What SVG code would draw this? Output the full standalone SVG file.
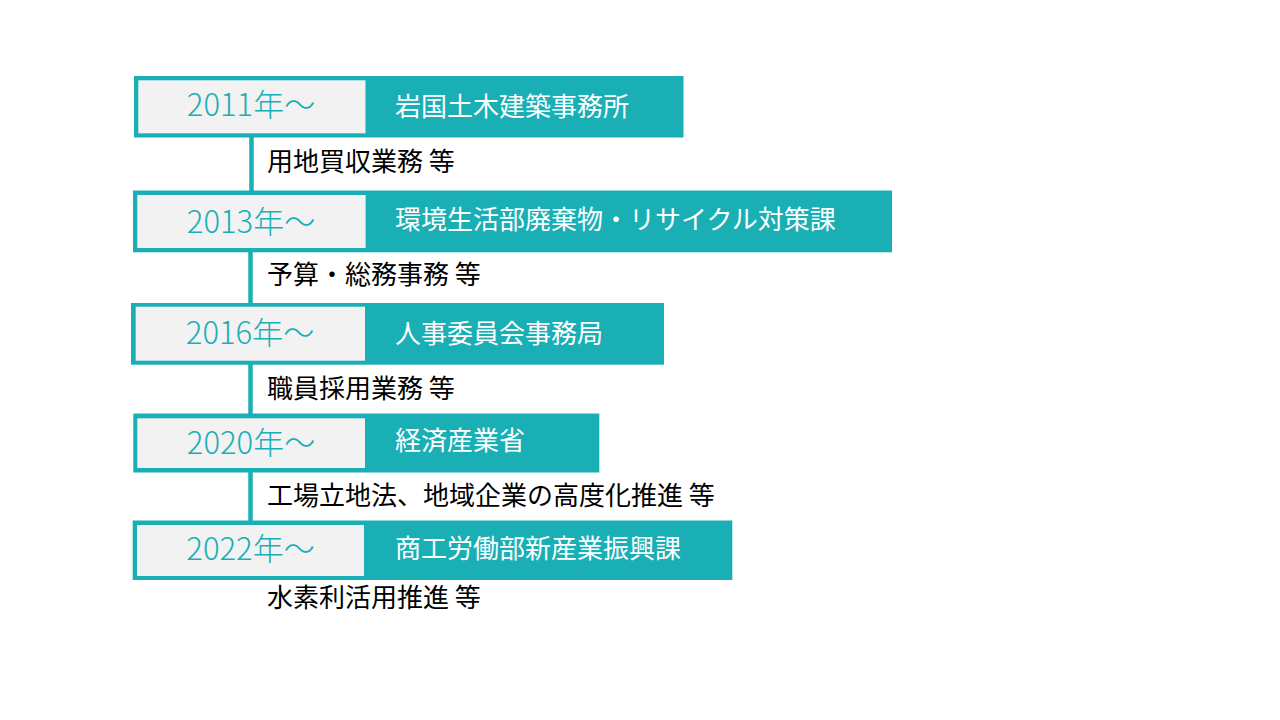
<svg xmlns="http://www.w3.org/2000/svg" width="1280" height="720" viewBox="0 0 1280 720">
<style>
.outer{fill:#1AAFB5}
.inner{fill:#F2F2F2}
.year{font-family:"Noto Sans CJK JP","Noto Sans",sans-serif;font-weight:300;font-size:31px;fill:#1AAFB5;text-anchor:middle}
.name{font-family:"Noto Sans CJK JP","Noto Sans",sans-serif;font-size:26px;fill:#FFFFFF}
.desc{font-family:"Noto Sans CJK JP","Noto Sans",sans-serif;font-size:26px;fill:#000000}
.conn{stroke:#1AAFB5;stroke-width:4.5;fill:none}
</style>
<rect width="1280" height="720" fill="#FFFFFF"/>
<g id="connectors">
<line class="conn" x1="251.5" y1="136" x2="251.5" y2="192"/>
<line class="conn" x1="250.5" y1="250" x2="250.5" y2="305"/>
<line class="conn" x1="250.5" y1="363" x2="250.5" y2="415"/>
<line class="conn" x1="250.5" y1="471" x2="250.5" y2="522"/>
</g>
<g id="node-2011">
<rect class="outer" x="134" y="76" width="549.5" height="61.5"/>
<rect class="inner" x="138.3" y="80.3" width="227.2" height="53"/>
<text class="year" x="251" y="116">2011年～</text>
<text class="name" x="395" y="115.5">岩国土木建築事務所</text>
</g>
<g id="desc-2011"><text class="desc" x="267" y="170.5">用地買収業務 等</text></g>
<g id="node-2013">
<rect class="outer" x="133" y="190.5" width="759" height="61.8"/>
<rect class="inner" x="137.3" y="195" width="228.3" height="53"/>
<text class="year" x="251" y="232.5">2013年～</text>
<text class="name" x="395" y="229">環境生活部廃棄物・リサイクル対策課</text>
</g>
<g id="desc-2013"><text class="desc" x="267" y="283.5">予算・総務事務 等</text></g>
<g id="node-2016">
<rect class="outer" x="131" y="303" width="533" height="61.7"/>
<rect class="inner" x="135.7" y="306.7" width="229.3" height="54"/>
<text class="year" x="250" y="344">2016年～</text>
<text class="name" x="395" y="342.5">人事委員会事務局</text>
</g>
<g id="desc-2016"><text class="desc" x="267" y="397.5">職員採用業務 等</text></g>
<g id="node-2020">
<rect class="outer" x="133.3" y="413.5" width="466" height="59"/>
<rect class="inner" x="137.3" y="418.3" width="227.7" height="49.7"/>
<text class="year" x="251" y="454">2020年～</text>
<text class="name" x="395" y="450">経済産業省</text>
</g>
<g id="desc-2020"><text class="desc" x="267" y="504.5">工場立地法、地域企業の高度化推進 等</text></g>
<g id="node-2022">
<rect class="outer" x="132.7" y="520.5" width="599.6" height="59.5"/>
<rect class="inner" x="137" y="525" width="227" height="51"/>
<text class="year" x="250.5" y="560">2022年～</text>
<text class="name" x="395" y="557.5">商工労働部新産業振興課</text>
</g>
<g id="desc-2022"><text class="desc" x="267" y="606.5">水素利活用推進 等</text></g>
</svg>
